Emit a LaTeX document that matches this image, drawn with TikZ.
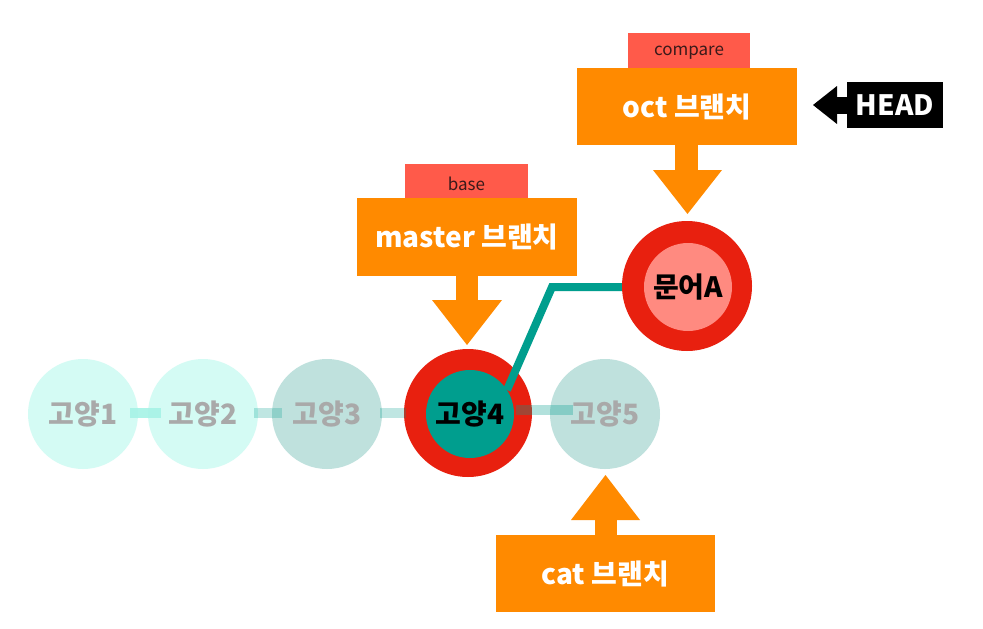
\documentclass[tikz,border=0pt]{standalone}
\usepackage{fontspec}
\setmainfont{Noto Sans CJK KR}
\definecolor{orng}{HTML}{FF8A00}
\definecolor{tagred}{HTML}{FF5A4A}
\definecolor{ringred}{HTML}{E8200F}
\definecolor{salmon}{HTML}{FF8A80}
\definecolor{teal}{HTML}{009E8E}
\definecolor{pale}{HTML}{D4FBF4}
\definecolor{greyteal}{HTML}{BFE1DD}
\definecolor{txtgrey}{HTML}{A9A9A9}
\definecolor{darktxt}{HTML}{3A1A1A}
\definecolor{cyanlink}{HTML}{A6F3E6}
\tikzset{
  x=1pt, y=-1pt,
  commit/.style={circle, fill=#1, minimum size=110pt, inner sep=0pt},
  ctext/.style={font=\bfseries\fontsize{28}{28}\selectfont, text=#1},
  ring/.style={circle, fill=ringred, minimum size=128pt, inner sep=0pt},
  core/.style={circle, minimum size=88pt, inner sep=0pt, fill=#1},
  branchbox/.style={rectangle, fill=orng, text=white, inner sep=0pt, font=\bfseries\fontsize{28}{28}\selectfont},
  tagbox/.style={rectangle, fill=tagred, text=darktxt, inner sep=0pt, font=\fontsize{17}{17}\selectfont},
  bigarrow/.style={fill=orng},
}
\begin{document}
\begin{tikzpicture}
\useasboundingbox (0,0) rectangle (983,629);
\fill[white] (0,0) rectangle (983,629);

\coordinate (c4start) at (507,390);
\coordinate (bend) at (552,287);

% commits
\node[commit=pale] (g1) at (83,414) {};
\node[commit=pale] (g2) at (203,414) {};
\node[commit=greyteal] (g3) at (327,414) {};
\node[ring] (r4) at (468,413) {};
\node[core=teal] (g4) at (470,414) {};
\node[commit=greyteal] (g5) at (605,414) {};

% connectors between commits (drawn over)
\fill[cyanlink, opacity=0.9] (130,408) rectangle (161,418);
\fill[teal, opacity=0.25] (254,408) rectangle (282,418);
\fill[teal, opacity=0.25] (380,408) rectangle (406,418);
\fill[teal, opacity=0.3] (516,405) rectangle (573,415);

% texts of commits
\node[ctext=txtgrey] at (g1) {고양1};
\node[ctext=txtgrey] at (g2) {고양2};
\node[ctext=txtgrey] at (g3) {고양3};
\node[ctext=txtgrey] at (g5) {고양5};

% teal branch line
\draw[teal, line width=8pt, line join=miter] (c4start) -- (bend) -- (630,287);
\node[ctext=black] at (g4) {고양4};

% 문어A
\node[ring, minimum size=130pt] (rA) at (687,286) {};
\node[core=salmon] (mA) at (688,287) {};
\node[ctext=black] at (mA) {문어A};

% master
\node[tagbox, minimum width=123pt, minimum height=39pt] (baseTag) at (466.5,183.5) {base};
\node[branchbox, minimum width=220pt, minimum height=78pt] (master) at (467,237) {master 브랜치};
\fill[bigarrow] (456,275) rectangle (478,301);
\fill[bigarrow] (432,300) -- (502,300) -- (467,345) -- cycle;

% oct
\node[tagbox, minimum width=122pt, minimum height=40pt] (cmpTag) at (689,52.5) {compare};
\node[branchbox, minimum width=220pt, minimum height=77pt] (oct) at (687,106.5) {oct 브랜치};
\fill[bigarrow] (675,144) rectangle (698,171);
\fill[bigarrow] (653,170) -- (722,170) -- (687.5,214) -- cycle;

% cat
\node[branchbox, minimum width=219pt, minimum height=77pt] (cat) at (605.5,573.5) {cat 브랜치};
\fill[bigarrow] (595,519) rectangle (617,536);
\fill[bigarrow] (571,520) -- (640,520) -- (605.5,475) -- cycle;

% HEAD
\node[rectangle, fill=black, text=white, inner sep=0pt, minimum width=96pt, minimum height=46pt,
  font=\bfseries\fontsize{28}{28}\selectfont] (head) at (895,105) {HEAD};
\fill[black] (836,97) rectangle (848,114);
\fill[black] (837,86) -- (837,124) -- (813,105) -- cycle;
\end{tikzpicture}
\end{document}
